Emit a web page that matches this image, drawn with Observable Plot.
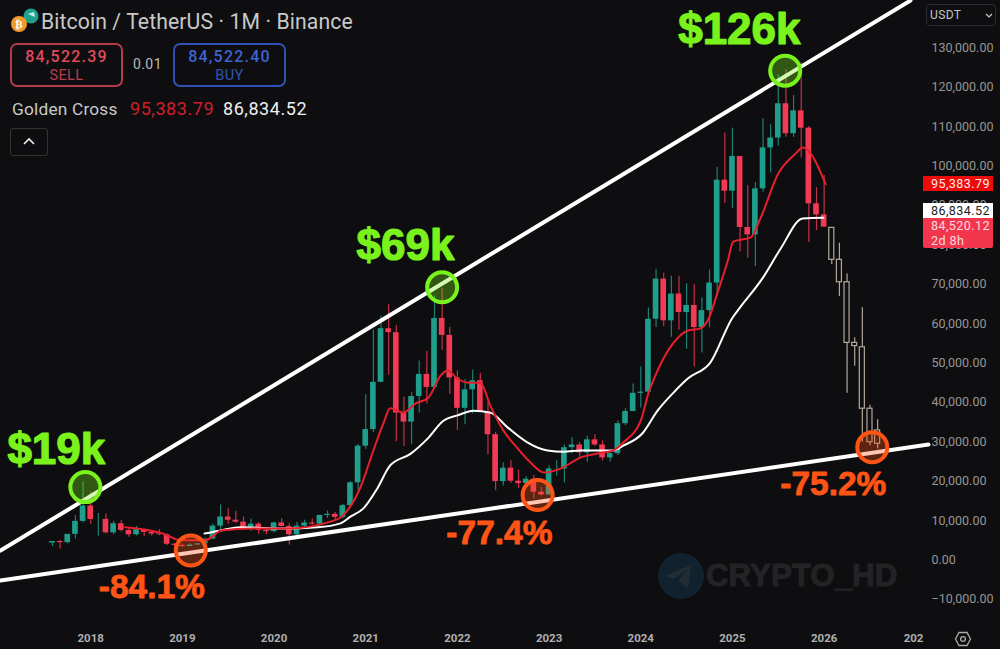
<!DOCTYPE html>
<html>
<head>
<meta charset="utf-8">
<script src="https://cdn.jsdelivr.net/npm/d3@7"></script>
<script src="https://cdn.jsdelivr.net/npm/@observablehq/plot@0.6"></script>
<style>
html,body{margin:0;padding:0;background:#0e0e10;width:1000px;height:649px;overflow:hidden;font-family:Roboto,"Noto Sans",sans-serif}
#wrap{position:relative;width:1000px;height:649px}
#wrap svg.chart{position:absolute;left:0;top:0;z-index:1;background:transparent}
.ab{position:absolute;white-space:nowrap}
.z0{z-index:0}.z2{z-index:2}
.box{box-sizing:border-box;border-radius:7px;text-align:center}
.tag{box-sizing:border-box;left:923px;width:70px;font-size:12.5px;letter-spacing:.45px;padding-left:8px;line-height:15px;z-index:2}
</style>
</head>
<body>
<div id="wrap"></div>
<script>
// ---- monthly candles, Aug 2017 to Jan 2026
const opens = [4300,4700,4400,6500,9800,13700,10300,10300,6900,9200,7500,6400,7700,7000,6600,6400,4000,3700,3400,3800,4100,5300,8600,10900,10100,9600,8300,9100,7500,7200,9400,8500,6400,8600,9400,9100,11300,11600,10800,13800,19600,28900,33100,45100,58700,57700,37300,35000,41500,47100,43800,61300,57000,46200,38500,43200,45500,37600,31800,19900,23300,20000,19400,20500,17200,16500,23100,23100,28500,29200,27200,30500,29200,25900,27000,34600,37700,42300,42600,61100,71300,60700,67500,62800,64600,59000,63300,70300,96400,93600,102400,84400,82500,94200,104600,107100,115800,108200,114000,109600,90400,87600];
const highs = [4700,4950,6500,11300,19800,17200,11800,11700,9800,10000,7800,8500,7800,7400,7700,6600,4250,4100,4200,4100,5600,9100,13950,13150,12300,10900,10400,9500,7800,9600,10500,9200,9500,10100,10400,11450,12470,12050,14100,19900,29300,41950,58350,61850,64850,59500,41300,42450,50500,52900,67000,69000,59000,48000,45800,48200,47400,40000,32400,24700,25200,22800,21100,21500,18400,23950,25250,29200,31000,29800,31400,31800,30250,27500,35300,38450,44700,49000,64000,73800,72800,72000,72000,70100,70000,66500,73600,99600,108350,109600,102500,95000,95750,112000,110500,123200,124500,117900,126200,110000,94500,97600];
const lows = [3400,2800,4100,5300,9400,9000,6000,6600,6400,7100,5750,6100,5900,6100,6200,3650,3150,3350,3400,3700,4050,5350,7450,9100,9300,7700,7300,6500,6450,6850,8450,3800,6150,8100,8850,8900,10550,9850,10400,13200,17600,28100,32300,45000,46900,30000,28800,29300,37300,39600,43300,53250,42000,32900,34300,37150,37600,26700,17600,18800,19500,18150,18200,15500,16300,16500,21350,19550,26950,25800,24800,28850,25150,24900,26550,34100,37600,38550,41900,59000,59200,56550,58400,53500,49000,52550,58950,66850,90500,89250,78250,76600,74500,93350,98200,105100,107300,107250,102000,80600,83600,84500];
const closes = [4700,4400,6500,9800,13700,10300,10300,6900,9200,7500,6400,7700,7000,6600,6400,4000,3700,3400,3800,4100,5300,8600,10900,10100,9600,8300,9100,7500,7200,9400,8500,6400,8600,9400,9100,11300,11600,10800,13800,19600,28900,33100,45100,58700,57700,37300,35000,41500,47100,43800,61300,57000,46200,38500,43200,45500,37600,31800,19900,23300,20000,19400,20500,17200,16500,23100,23100,28500,29200,27200,30500,29200,25900,27000,34600,37700,42300,42600,61100,71300,60700,67500,62800,64600,59000,63300,70300,96400,93600,102400,84400,82500,94200,104600,107100,115800,108200,114000,109600,90400,87600,84500];

// ---- projected outline candles, Feb to Aug 2026
const projMonths = [102,103,104,105,106,107,108];
const projOpens = [84300,76200,70500,55100,54000,38400,32900];
const projCloses = [76200,70500,55100,54300,38400,29900,29500];
const projHighs = [84300,80400,72600,56400,64000,39300,35600];
const projLows = [75000,66900,42300,49200,29900,29000,28200];

// ---- moving averages (month position, price)
const redMonths = [9.5,14.5,16.8,20,21.1,22,26.3,30.8,36.8,37.7,38.6,40.3,42,43.3,44.2,45.9,47.5,49.2,50.8,51.7,53,54.4,56,57.3,59,60.9,62.6,64.3,66.5,69.1,72.1,73.4,74.7,77,78,79.2,81.2,83.1,84.8,85.9,87,88.4,89.1,91.4,92.7,95,97.3,98.2,101.2];
const redValues = [8300,6700,5000,5000,6200,7500,8000,8000,10000,10800,12600,18400,27800,34600,38500,37400,39700,41200,46800,48100,46000,45000,45000,39200,32900,28300,24700,22200,23200,26000,27300,27800,29800,35400,42300,48100,54900,58200,58800,61300,67600,76000,80800,81900,86900,98100,103200,104700,95384];
const whiteMonths = [19.9,22,24.6,30.2,34.7,37.7,39,40.7,42.5,44.2,46.9,49.1,51.2,53,55.1,57.3,59.6,62.2,64.8,66.9,69.1,73.4,74.7,77.2,79.2,81.2,83.2,86.1,89,90,92.9,95.3,98.2,100.9];
const whiteValues = [6700,7500,8300,8000,8300,9300,11000,13100,18100,24000,27000,30800,35400,36700,37900,37400,33600,29800,27800,27500,27800,27800,29000,32100,37900,42300,46100,50100,61500,64100,71400,79000,86700,86835];

// ---- hand-drawn trend lines
const upperMonths = [-6.8,112.3];
const upperValues = [2400,142000];
const lowerMonths = [-6.8,114.66];
const lowerValues = [-5200,29300];

// ---- annotations
const peakMonths = [4.3,51,95.9];
const peakValues = [18500,69200,124200];
const peakLabels = ["$19k","$69k","$126k"];
const peakLabelMonths = [0.5,46.2,89.9];
const peakLabelValues = [28000,79800,134600];
const lowMonths = [18.1,63.5,107.3];
const lowValues = [2400,16500,28600];
const lowLabels = ["-84.1%","-77.4%","-75.2%"];
const lowLabelMonths = [13,58.5,102.2];
const lowLabelValues = [-7000,6700,19200];

// ---- axes
const yTicks = [-10000,0,10000,20000,30000,40000,50000,60000,70000,80000,90000,100000,110000,120000,130000];
const xTickMonths = [5,17,29,41,53,65,77,89,101,112.7];
const xTickLabels = ["2018","2019","2020","2021","2022","2023","2024","2025","2026","202"];

const GREEN="#1f9e8c", RED="#f23a55", TAN="#b3a799", LIME="#7af21c", ORANGE="#ff5416", BG="#0e0e10";

const candles = opens.map((o,i)=>({i,o,h:highs[i],l:lows[i],c:closes[i],col:closes[i]>=o?GREEN:RED}));
const proj = projMonths.map((i,k)=>({i,o:projOpens[k],c:projCloses[k],h:projHighs[k],l:projLows[k]}));
const zip=(a,b)=>a.map((x,k)=>({x,y:b[k]}));
const red=zip(redMonths,redValues), white=zip(whiteMonths,whiteValues);
const upper=zip(upperMonths,upperValues), lower=zip(lowerMonths,lowerValues);
const peaks=zip(peakMonths,peakValues), lowsC=zip(lowMonths,lowValues);
const peakT=peakLabels.map((t,k)=>({t,x:peakLabelMonths[k],y:peakLabelValues[k]}));
const lowT=lowLabels.map((t,k)=>({t,x:lowLabelMonths[k],y:lowLabelValues[k]}));

const chart = Plot.plot({
  width:1000,height:649,
  marginLeft:0,marginRight:72,marginTop:0,marginBottom:22,
  x:{type:"linear",domain:[-6.806,114.66]},
  y:{type:"linear",domain:[-17132,142005]},
  style:{background:"transparent",color:"#a5a5a5",fontFamily:"Roboto,sans-serif"},
  className:"cht",
  marks:[
    Plot.axisY({anchor:"right",ticks:yTicks,tickSize:0,tickPadding:3,label:null,
      tickFormat:d=>(d<0?"\u2212":"")+d3.format(",.2f")(Math.abs(d)),
      fontSize:12.5,fill:"#969696",style:{letterSpacing:"0.55px"}}),
    Plot.axisX({anchor:"bottom",ticks:xTickMonths,tickSize:0,tickPadding:6,label:null,
      tickFormat:d=>xTickLabels[xTickMonths.indexOf(d)],
      fontSize:11.5,fontWeight:700,fill:"#b0b0b0",style:{letterSpacing:"0.5px"}}),
    Plot.ruleX(candles,{x:"i",y1:"l",y2:"h",stroke:"col",strokeWidth:1.2,strokeOpacity:.8}),
    Plot.rect(candles,{x1:d=>d.i-.37,x2:d=>d.i+.37,y1:d=>Math.min(d.o,d.c),y2:d=>Math.max(d.o,d.c),fill:"col"}),
    Plot.ruleX(proj,{x:"i",y1:"l",y2:"h",stroke:TAN,strokeWidth:1.2}),
    Plot.rect(proj,{x1:d=>d.i-.33,x2:d=>d.i+.33,y1:d=>Math.min(d.o,d.c),y2:d=>Math.max(d.o,d.c),fill:BG,stroke:TAN,strokeWidth:1.2}),
    Plot.line(white,{x:"x",y:"y",stroke:"#ffffff",strokeWidth:2,curve:"monotone-x"}),
    Plot.line(red,{x:"x",y:"y",stroke:"#e8202c",strokeWidth:2,curve:"monotone-x"}),
    Plot.line(upper,{x:"x",y:"y",stroke:"#ffffff",strokeWidth:4}),
    Plot.line(lower,{x:"x",y:"y",stroke:"#ffffff",strokeWidth:4}),
    Plot.dot(peaks,{x:"x",y:"y",r:15,stroke:LIME,strokeWidth:4,fill:LIME,fillOpacity:.33}),
    Plot.dot(lowsC,{x:"x",y:"y",r:15,stroke:ORANGE,strokeWidth:4,fill:ORANGE,fillOpacity:.33}),
    Plot.text(peakT,{x:"x",y:"y",text:"t",fill:LIME,stroke:LIME,strokeWidth:1.2,fontSize:44,fontWeight:700,fontFamily:"Liberation Sans",textAnchor:"middle",lineAnchor:"middle"}),
    Plot.text(lowT,{x:"x",y:"y",text:"t",fill:ORANGE,stroke:ORANGE,strokeWidth:.8,fontSize:33.5,fontWeight:700,fontFamily:"Liberation Sans",textAnchor:"middle",lineAnchor:"middle"})
  ]
});
chart.classList.add("chart");
const wrap=document.getElementById("wrap");
wrap.appendChild(chart);
const yPx=v=>chart.scale("y").apply(v);

function add(html){wrap.insertAdjacentHTML("beforeend",html)}
// watermark, behind the chart
add(`<svg class="ab z0" style="left:655px;top:550px" width="52" height="52" viewBox="0 0 52 52"><circle cx="26" cy="26" r="23" fill="#10222d"/><path d="M36 15 L10 26 L19 29 L33 19 L23 31 L33 38 Z" fill="#232c32"/></svg>`);
add(`<div class="ab z0" style="left:706px;top:558px;font:700 31.3px 'Liberation Sans',sans-serif;color:#232325;-webkit-text-stroke:1px #232325">CRYPTO_HD</div>`);
// header
add(`<svg class="ab z2" style="left:8px;top:6px" width="32" height="30" viewBox="0 0 32 30"><circle cx="23" cy="10" r="7.5" fill="#1fa08e"/><path d="M20 8 L26 6 L27 11 Z" fill="#cfeee8"/><circle cx="11" cy="18" r="8" fill="#f29a26"/><text x="11" y="22" text-anchor="middle" font-size="11" font-weight="700" fill="#fff" font-family="Roboto">\u20bf</text></svg>`);
add(`<div class="ab z2" style="left:41px;top:9px;font-size:21.2px;color:#c9c9c9;letter-spacing:.1px">Bitcoin / TetherUS \u00b7 1M \u00b7 Binance</div>`);
add(`<div class="ab z2 box" style="left:10px;top:43px;width:113px;height:44px;border:2px solid #b23c4c"><div style="color:#e04a5c;font-size:16px;letter-spacing:1.2px;font-weight:500;margin-top:2px">84,522.39</div><div style="color:#b93e4e;font-size:14.5px;letter-spacing:.4px;margin-top:1px">SELL</div></div>`);
add(`<div class="ab z2" style="left:133px;top:56px;font-size:14px;color:#b9b9b9;letter-spacing:.4px">0.01</div>`);
add(`<div class="ab z2 box" style="left:173px;top:43px;width:113px;height:44px;border:2px solid #2f50b4"><div style="color:#3f63d2;font-size:16px;letter-spacing:1.2px;font-weight:500;margin-top:2px">84,522.40</div><div style="color:#3353ae;font-size:14.5px;letter-spacing:.4px;margin-top:1px">BUY</div></div>`);
add(`<div class="ab z2" style="left:12px;top:99px;font-size:17.3px;color:#c9c9c9;letter-spacing:.2px">Golden Cross</div>`);
add(`<div class="ab z2" style="left:130px;top:98px;font-size:18px;color:#d01f28;letter-spacing:.55px">95,383.79</div>`);
add(`<div class="ab z2" style="left:223px;top:98px;font-size:18px;color:#efefef;letter-spacing:.55px">86,834.52</div>`);
add(`<div class="ab z2" style="left:10px;top:128px;width:36px;height:26px;border:1.5px solid #333;border-radius:3px"><svg width="36" height="26"><path d="M13 15 L18 10 L23 15" fill="none" stroke="#eee" stroke-width="1.6"/></svg></div>`);
// currency selector
add(`<div class="ab z2" style="left:926px;top:4px;width:70px;height:22px;box-sizing:border-box;border:1.5px solid #2c2c2e;border-radius:4px;font-size:12px;color:#c4c4c4;padding:3px 0 0 3px;letter-spacing:.4px">USDT<svg style="position:absolute;right:2px;top:8px" width="8" height="6"><path d="M1 1 L4 4 L7 1" fill="none" stroke="#ccc" stroke-width="1.2"/></svg></div>`);
// price tags, placed by the y scale
const tag=(v,h,bg,fg,txt)=>add(`<div class="ab tag" style="top:${yPx(v)-h/2}px;height:${h}px;background:${bg};color:${fg}">${txt}</div>`);
tag(95384,15,"#ef0a0a","#ffe9e9","95,383.79");
add(`<div class="ab tag" style="top:203px;height:15px;background:#fff;color:#222">86,834.52</div>`);
add(`<div class="ab tag" style="top:218px;height:30px;background:#f2364e;color:#ffd9de;border-radius:0 0 2px 2px">84,520.12<br>2d 8h</div>`);
// settings hexagon
add(`<svg class="ab z2" style="left:954px;top:630px" width="18" height="18" viewBox="0 0 18 18"><path d="M5 2.5 H13 L16.5 9 L13 15.5 H5 L1.5 9 Z" fill="none" stroke="#aaa" stroke-width="1.3"/><circle cx="9" cy="9" r="2.4" fill="none" stroke="#aaa" stroke-width="1.3"/></svg>`);
</script>
</body>
</html>
